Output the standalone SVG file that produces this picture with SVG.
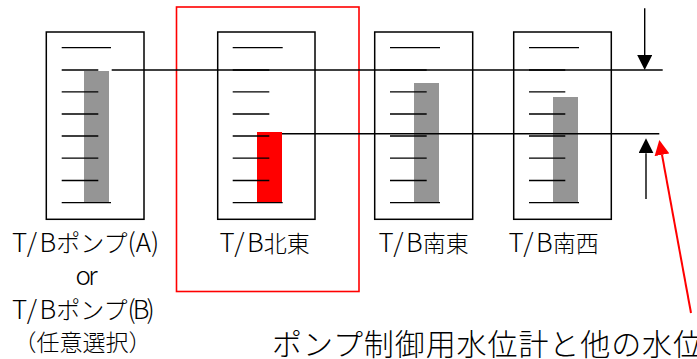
<svg xmlns="http://www.w3.org/2000/svg" width="697" height="359" viewBox="0 0 697 359">
<style>
.box{fill:none;stroke:#000;stroke-width:1.5}
.tick{stroke:#000;stroke-width:1.3}
.bar{fill:#959595}
.lvl{stroke:#000;stroke-width:1.4;fill:none}
.lbl{font-family:"Noto Sans CJK JP","Noto Sans",sans-serif;font-size:26px;fill:#000;font-weight:300}
.lat{letter-spacing:2.5px}
.cj{font-size:23px}
.kana{font-size:24px}
.big{font-family:"Noto Sans CJK JP","Noto Sans",sans-serif;font-size:30px;fill:#000;font-weight:300}
</style>
<defs>
<marker id="ahk" markerUnits="userSpaceOnUse" markerWidth="15" markerHeight="15" refX="0" refY="7.5" orient="auto" viewBox="0 0 15 15"><path d="M0,0 L15,7.5 L0,15 Z" fill="#000"/></marker>
<marker id="ahr" markerUnits="userSpaceOnUse" markerWidth="15" markerHeight="15" refX="0" refY="7.5" orient="auto" viewBox="0 0 15 15"><path d="M0,0 L15,7.5 L0,15 Z" fill="#f00"/></marker>
</defs>
<rect x="176.5" y="7" width="182.5" height="284.5" fill="none" stroke="#f00" stroke-width="1.6"/>
<g id="gauge-a">
<rect class="box" x="46.3" y="32" width="97.7" height="187.3"/>
<rect class="bar" x="84" y="71" width="25" height="131.7"/>
<path class="tick" d="M61.7,47.7H111 M61.7,70H98.3 M61.7,91.8H98.3 M61.7,114H98.3 M61.7,136H98.3 M61.7,158.2H98.3 M61.7,180.5H98.3 M61.7,202.7H111"/>
<text class="lbl" x="12" y="252"><tspan class="lat">T/</tspan>B<tspan class="kana">ポンプ</tspan>(A)</text>
<text class="lbl" x="75.5" y="285" textLength="22">or</text>
<text class="lbl" x="12" y="319"><tspan class="lat">T/</tspan>B<tspan class="kana">ポンプ</tspan><tspan letter-spacing="-3">(B)</tspan></text>
<text class="lbl cj" x="82.5" y="351" text-anchor="middle">（任意選択）</text>
</g>
<g id="gauge-ne">
<rect class="box" x="217.7" y="32" width="97.3" height="187.3"/>
<rect x="257" y="132" width="25" height="70.7" fill="#f00"/>
<path class="tick" d="M232.7,47.7H282.7 M232.7,70H269.3 M232.7,91.8H269.3 M232.7,114H269.3 M232.7,136H269.3 M232.7,158.2H269.3 M232.7,180.5H269.3 M232.7,202.7H282.7"/>
<text class="lbl" x="219.5" y="252"><tspan class="lat">T/</tspan>B<tspan class="cj">北東</tspan></text>
</g>
<g id="gauge-se">
<rect class="box" x="374.7" y="32" width="98" height="187.3"/>
<rect class="bar" x="414" y="83" width="25" height="119.7"/>
<path class="tick" d="M390,47.7H440 M390,70H426.7 M390,91.8H426.7 M390,114H426.7 M390,136H426.7 M390,158.2H426.7 M390,180.5H426.7 M390,202.7H440"/>
<text class="lbl" x="378.5" y="252"><tspan class="lat">T/</tspan>B<tspan class="cj">南東</tspan></text>
</g>
<g id="gauge-sw">
<rect class="box" x="513.7" y="32" width="97.6" height="187.3"/>
<rect class="bar" x="553" y="97" width="25" height="105.7"/>
<path class="tick" d="M529,47.7H579 M529,70H565.3 M529,91.8H565.3 M529,114H565.3 M529,136H565.3 M529,158.2H565.3 M529,180.5H565.3 M529,202.7H579"/>
<text class="lbl" x="508.5" y="252"><tspan class="lat">T/</tspan>B<tspan class="cj">南西</tspan></text>
</g>
<g id="connectors">
<line class="lvl" x1="111.7" y1="70" x2="662.7" y2="70"/>
<line class="lvl" x1="282" y1="133.7" x2="659.3" y2="133.7"/>
<line class="lvl" x1="644.7" y1="8.3" x2="644.7" y2="55" marker-end="url(#ahk)"/>
<line class="lvl" x1="646" y1="199" x2="646" y2="153.3" marker-end="url(#ahk)"/>
<line x1="691" y1="313" x2="662" y2="154.8" stroke="#f00" stroke-width="2" marker-end="url(#ahr)"/>
</g>
<text id="note" class="big" x="272" y="355" textLength="431">ポンプ制御用水位計と他の水位</text>
</svg>
